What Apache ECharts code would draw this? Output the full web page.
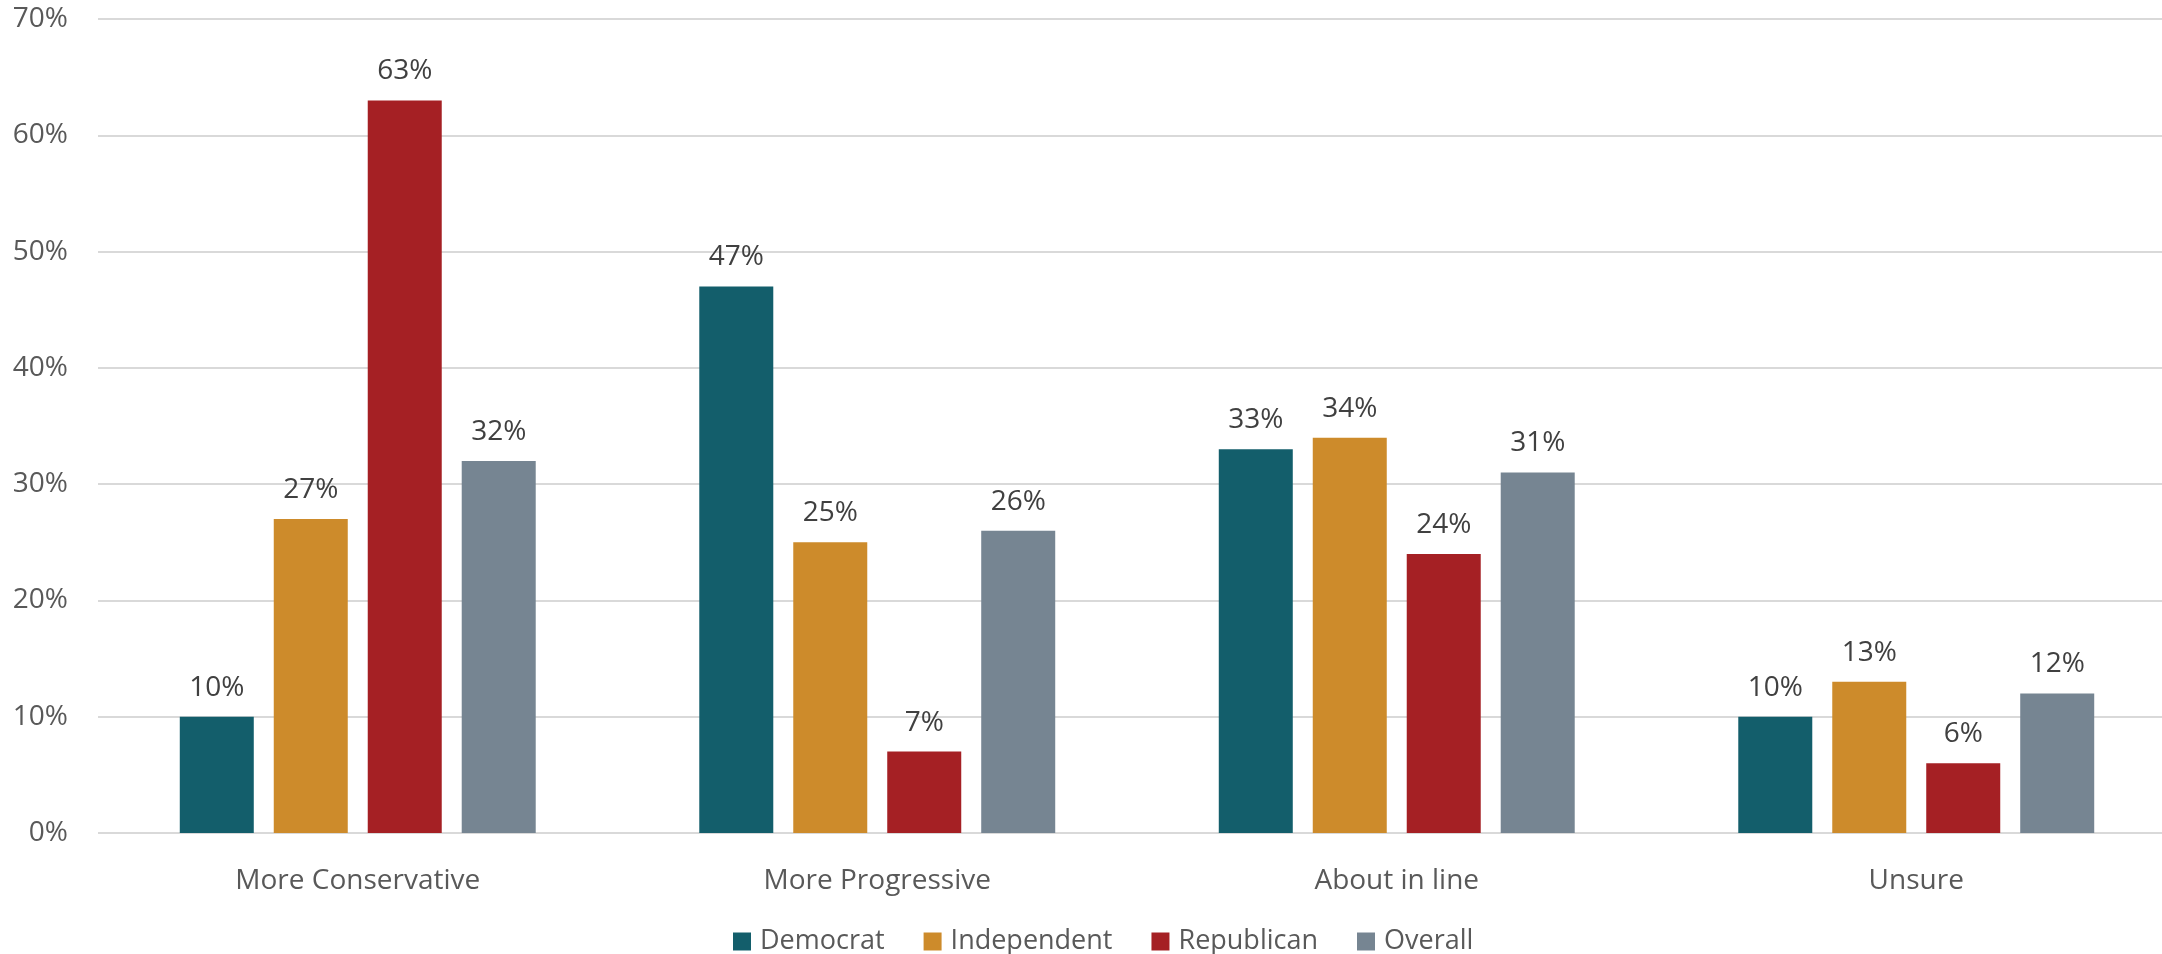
<!DOCTYPE html>
<html>
<head>
<meta charset="utf-8">
<script src="https://cdn.jsdelivr.net/npm/echarts@6/dist/echarts.min.js"></script>
<style>
html,body{margin:0;padding:0;background:#fff;overflow:hidden;}
#chart{width:2200px;height:954px;}
</style>
</head>
<body>
<div id="chart"></div>
<script>
const categories = ['More Conservative', 'More Progressive', 'About in line', 'Unsure'];
const seriesNames = ['Democrat', 'Independent', 'Republican', 'Overall'];
const democrat = [10, 47, 33, 10];
const independent = [27, 25, 34, 13];
const republican = [63, 7, 24, 6];
const overall = [32, 26, 31, 12];
const yTicks = [0, 10, 20, 30, 40, 50, 60, 70];
const colors = ['#135E6B', '#CD8B2B', '#A52024', '#768592'];

const allData = [democrat, independent, republican, overall];
const FONT = '"Open Sans", sans-serif';

const chart = echarts.init(document.getElementById('chart'), null, {renderer: 'canvas'});
chart.setOption({
  animation: false,
  backgroundColor: '#fff',
  color: colors,
  textStyle: {fontFamily: FONT},
  grid: {left: 98, top: 19, right: 24, height: 814, containLabel: false},
  legend: {
    left: 728, top: 923,
    itemWidth: 18, itemHeight: 18, itemGap: 39,
    icon: 'rect',
    textStyle: {fontFamily: FONT, fontSize: 27, color: '#595959', padding: [0, 0, 0, 4]},
    data: seriesNames
  },
  xAxis: {
    type: 'category',
    data: categories,
    axisLine: {show: false},
    axisTick: {show: false},
    axisLabel: {fontFamily: FONT, fontSize: 28, color: '#595959', margin: 34}
  },
  yAxis: {
    type: 'value',
    min: yTicks[0], max: yTicks[yTicks.length - 1], interval: 10,
    axisLine: {show: false},
    axisTick: {show: false},
    axisLabel: {fontFamily: FONT, fontSize: 28, color: '#595959', margin: 30, formatter: '{value}%'},
    splitLine: {lineStyle: {color: '#D9D9D9', width: 2}}
  },
  series: seriesNames.map((name, i) => ({
    name: name,
    type: 'bar',
    data: allData[i],
    barWidth: 74,
    barGap: '27%',
    itemStyle: {color: colors[i]},
    label: {
      show: true, position: 'top', distance: 15,
      formatter: '{c}%',
      fontFamily: FONT, fontSize: 28, color: '#404040'
    }
  }))
});
</script>
</body>
</html>
